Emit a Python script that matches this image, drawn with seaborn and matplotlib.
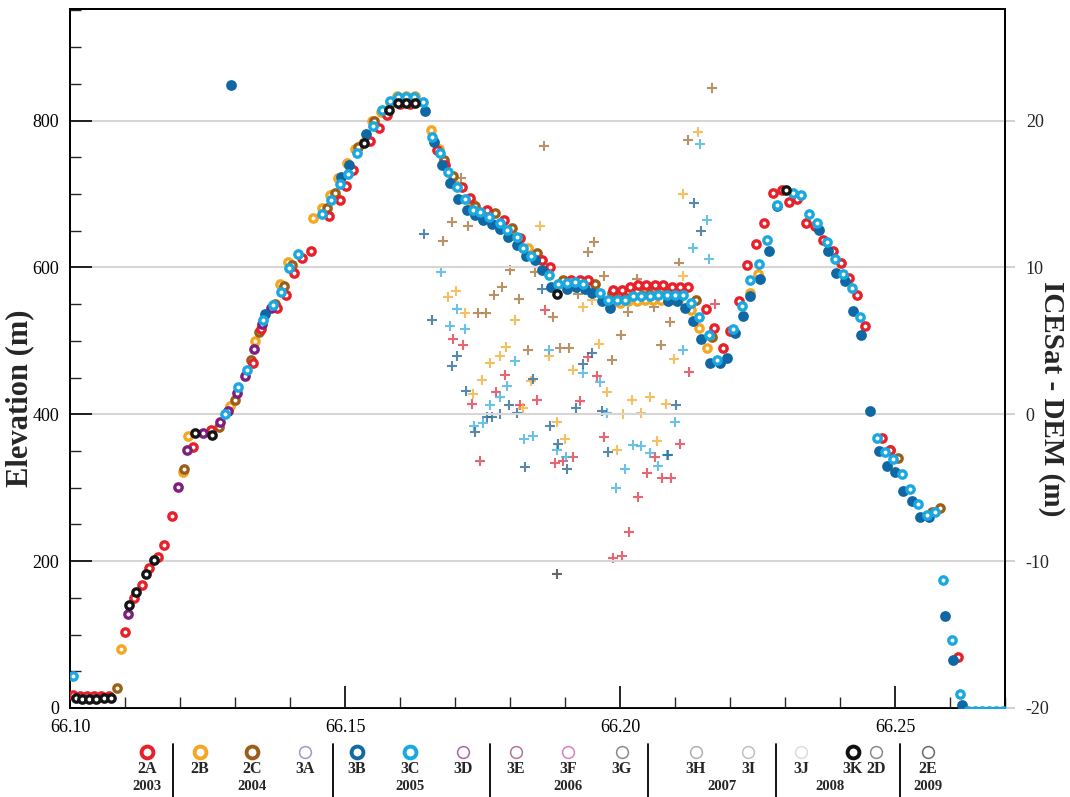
import matplotlib

matplotlib.use('Agg')
import matplotlib.pyplot as plt
from matplotlib.ticker import MultipleLocator
import seaborn as sns

# ---- elevation profiles (latitude, elevation m), left axis ----
red_pts = [(66.1005, 18), (66.1018, 17), (66.1031, 16), (66.1044, 16), (66.1057, 16), (66.1070, 17),
           (66.1100, 103), (66.1116, 150), (66.1130, 168), (66.1144, 190), (66.1160, 206), (66.1171, 222),
           (66.1185, 262), (66.1224, 356), (66.1256, 379), (66.1333, 470), (66.1347, 516), (66.1377, 545),
           (66.1393, 562), (66.1407, 593), (66.1422, 613), (66.1438, 623), (66.1470, 670), (66.1491, 692),
           (66.1501, 711), (66.1515, 733), (66.1545, 772), (66.1562, 790), (66.1577, 808), (66.1600, 822),
           (66.1618, 822), (66.1667, 760), (66.1682, 740), (66.1712, 709), (66.1727, 695), (66.1758, 678),
           (66.1789, 664), (66.1819, 640), (66.1858, 610), (66.1873, 600), (66.1910, 583), (66.1927, 583),
           (66.1942, 583), (66.1988, 569), (66.2003, 569), (66.2018, 574), (66.2033, 576), (66.2048, 576),
           (66.2064, 576), (66.2079, 576), (66.2094, 574), (66.2109, 574), (66.2124, 574), (66.2156, 543),
           (66.2170, 518), (66.2187, 490), (66.2200, 513), (66.2217, 554), (66.2231, 604), (66.2247, 632),
           (66.2262, 661), (66.2278, 701), (66.2294, 705), (66.2308, 689), (66.2322, 693), (66.2339, 661),
           (66.2355, 657), (66.2370, 637), (66.2387, 622), (66.2401, 606), (66.2417, 585), (66.2431, 563),
           (66.2445, 520), (66.2476, 368), (66.2491, 351), (66.2614, 70)]

orange_pts = [(66.1092, 80), (66.1206, 322), (66.1215, 371), (66.1291, 411), (66.1336, 500), (66.1381, 578),
              (66.1396, 607), (66.1442, 668), (66.1458, 681), (66.1473, 699), (66.1488, 722), (66.1503, 742),
              (66.1518, 762), (66.1533, 770), (66.1549, 799), (66.1566, 812), (66.1582, 826), (66.1594, 833),
              (66.1611, 834), (66.1627, 834), (66.1656, 787), (66.1670, 762), (66.1700, 712), (66.1730, 688),
              (66.1833, 626), (66.1985, 552), (66.2000, 552), (66.2015, 554), (66.2030, 554), (66.2045, 556),
              (66.2060, 556), (66.2075, 556), (66.2090, 556), (66.2105, 556), (66.2130, 542), (66.2144, 518),
              (66.2159, 490), (66.2236, 565), (66.2251, 591)]

brown_pts = [(66.1085, 27), (66.1208, 325), (66.1270, 383), (66.1300, 420), (66.1329, 474), (66.1343, 512),
             (66.1373, 550), (66.1389, 575), (66.1403, 604), (66.1467, 681), (66.1482, 701), (66.1523, 764),
             (66.1553, 800), (66.1585, 826), (66.1680, 747), (66.1696, 724), (66.1736, 684), (66.1773, 674),
             (66.1803, 654), (66.1849, 620), (66.1897, 583), (66.1955, 578), (66.1985, 565), (66.2000, 565),
             (66.2015, 568), (66.2030, 568), (66.2045, 570), (66.2061, 570), (66.2076, 570), (66.2091, 570),
             (66.2106, 570), (66.2139, 556), (66.2167, 505), (66.2491, 351), (66.2506, 340), (66.2567, 267),
             (66.2581, 272)]

dblue_pts = [(66.1293, 849), (66.1355, 536), (66.1492, 723), (66.1507, 740), (66.1538, 782), (66.1645, 813),
             (66.1662, 771), (66.1676, 740), (66.1690, 715), (66.1706, 693), (66.1721, 678), (66.1736, 672),
             (66.1751, 665), (66.1767, 659), (66.1782, 652), (66.1797, 642), (66.1812, 631), (66.1829, 615),
             (66.1845, 610), (66.1859, 596), (66.1874, 573), (66.1903, 570), (66.1920, 573), (66.1936, 570),
             (66.1950, 565), (66.1967, 554), (66.1981, 545), (66.2088, 554), (66.2103, 554), (66.2118, 545),
             (66.2132, 527), (66.2148, 502), (66.2164, 470), (66.2181, 470), (66.2194, 477), (66.2209, 511),
             (66.2224, 534), (66.2236, 561), (66.2255, 584), (66.2270, 622), (66.2285, 684), (66.2362, 651),
             (66.2379, 622), (66.2393, 593), (66.2409, 581), (66.2423, 541), (66.2439, 508), (66.2455, 405),
             (66.2470, 350), (66.2485, 330), (66.2500, 322), (66.2515, 296), (66.2530, 282), (66.2545, 260),
             (66.2561, 260), (66.2591, 125), (66.2606, 66), (66.2622, 4)]

cyan_pts = [(66.1005, 43), (66.1282, 401), (66.1306, 437), (66.1322, 460), (66.1351, 529), (66.1369, 549),
            (66.1383, 566), (66.1399, 599), (66.1415, 619), (66.1459, 673), (66.1475, 692), (66.1490, 713),
            (66.1505, 727), (66.1521, 756), (66.1551, 792), (66.1567, 815), (66.1582, 827), (66.1596, 832),
            (66.1611, 832), (66.1626, 832), (66.1642, 826), (66.1658, 778), (66.1673, 756), (66.1688, 730),
            (66.1703, 709), (66.1718, 693), (66.1733, 678), (66.1745, 675), (66.1761, 669), (66.1781, 661),
            (66.1795, 651), (66.1812, 642), (66.1824, 626), (66.1839, 615), (66.1871, 590), (66.1888, 578),
            (66.1903, 579), (66.1918, 580), (66.1933, 578), (66.1964, 565), (66.1979, 556), (66.1994, 556),
            (66.2009, 556), (66.2024, 561), (66.2039, 561), (66.2055, 561), (66.2070, 563), (66.2085, 563),
            (66.2100, 563), (66.2115, 563), (66.2130, 552), (66.2144, 533), (66.2161, 508), (66.2176, 474),
            (66.2206, 516), (66.2221, 548), (66.2236, 583), (66.2253, 605), (66.2268, 638), (66.2285, 685),
            (66.2315, 702), (66.2329, 699), (66.2344, 673), (66.2359, 661), (66.2376, 634), (66.2391, 611),
            (66.2406, 591), (66.2421, 572), (66.2436, 532), (66.2467, 368), (66.2482, 349), (66.2497, 339),
            (66.2512, 319), (66.2527, 298), (66.2542, 278), (66.2559, 263), (66.2573, 267), (66.2588, 174),
            (66.2604, 93), (66.2619, 19), (66.2633, -4), (66.2645, -4), (66.2658, -4), (66.2671, -4),
            (66.2684, -4), (66.2696, -4)]

purple_pts = [(66.1105, 128), (66.1197, 301), (66.1212, 351), (66.1242, 375), (66.1273, 390), (66.1288, 404),
              (66.1303, 429), (66.1318, 452), (66.1335, 489), (66.1349, 523), (66.1365, 545)]

black_pts = [(66.1010, 13), (66.1022, 12), (66.1035, 12), (66.1048, 12), (66.1061, 13), (66.1074, 13),
             (66.1108, 140), (66.1120, 158), (66.1138, 183), (66.1153, 202), (66.1227, 374), (66.1259, 372),
             (66.1535, 770), (66.1580, 814), (66.1596, 824), (66.1611, 824), (66.1627, 824), (66.1885, 564),
             (66.2302, 705)]

# ---- ICESat - DEM differences (latitude, m), right axis ----
red_plus = [(66.1864, 7.1), (66.2173, 7.5), (66.1697, 5.1), (66.1714, 4.7), (66.1941, 3.9), (66.2126, 2.9),
            (66.1791, 2.7), (66.1958, 2.6), (66.1775, 1.5), (66.1730, 0.7), (66.1819, 0.65), (66.1849, 1.0),
            (66.1927, 0.9), (66.1971, -1.55), (66.2109, -2.0), (66.2064, -2.9), (66.1914, -2.9), (66.1897, -3.2),
            (66.1882, -3.3), (66.1745, -3.2), (66.2049, -4.0), (66.2076, -4.35), (66.2092, -4.35),
            (66.2033, -5.65), (66.2016, -8.0), (66.1988, -9.8), (66.2003, -9.65)]

orange_plus = [(66.1855, 12.8), (66.1702, 8.4), (66.1687, 8.0), (66.1719, 6.9), (66.1932, 7.3), (66.1809, 6.4),
               (66.2115, 9.4), (66.1949, 7.8), (66.1961, 4.8), (66.1870, 4.0), (66.1793, 4.6), (66.1781, 4.0),
               (66.1764, 3.5), (66.2099, 3.8), (66.1915, 3.0), (66.1749, 2.35), (66.1838, 2.3), (66.1976, 1.5),
               (66.1732, 1.4), (66.1824, 0.4), (66.2006, 0.0), (66.2021, 1.0), (66.2038, 0.1), (66.2055, 1.2),
               (66.2084, 0.7), (66.1886, -0.5), (66.1900, -1.7), (66.1994, -2.4), (66.2067, -1.85),
               (66.2115, 15.0), (66.2142, 19.2)]

brown_plus = [(66.1862, 18.25), (66.1710, 16.1), (66.1694, 13.1), (66.1724, 12.8), (66.1678, 11.8),
              (66.1953, 11.7), (66.1941, 11.05), (66.1800, 9.85), (66.1785, 8.7), (66.1771, 8.1),
              (66.1817, 7.85), (66.1845, 9.7), (66.1970, 9.4), (66.1741, 6.9), (66.1756, 6.9), (66.1879, 6.6),
              (66.2030, 9.2), (66.2015, 7.0), (66.2108, 10.3), (66.1924, 8.2), (66.2062, 7.3), (66.2091, 6.3),
              (66.2001, 5.4), (66.2074, 4.7), (66.1833, 4.35), (66.1891, 4.5), (66.1908, 4.5), (66.1985, 3.7),
              (66.2167, 22.25), (66.2124, 18.7)]

cyan_plus = [(66.1674, 9.7), (66.1703, 7.2), (66.1690, 6.0), (66.2161, 10.6), (66.1718, 5.8), (66.1870, 4.4),
             (66.1809, 3.6), (66.1932, 2.8), (66.2115, 4.35), (66.1795, 1.9), (66.1964, 2.2), (66.1781, 1.2),
             (66.1764, 0.6), (66.1976, 0.1), (66.1751, -0.6), (66.1735, -0.8), (66.2100, -0.55), (66.1825, -1.7),
             (66.1841, -1.5), (66.1885, -2.4), (66.2024, -2.1), (66.2039, -2.15), (66.2055, -2.65),
             (66.2085, -2.75), (66.2070, -3.5), (66.1902, -2.9), (66.2009, -3.7), (66.1993, -5.0),
             (66.2145, 18.4), (66.2158, 13.2), (66.2132, 11.3)]

dblue_plus = [(66.1644, 12.3), (66.1859, 8.5), (66.1659, 6.4), (66.1704, 4.0), (66.1694, 3.3), (66.1950, 4.2),
              (66.1933, 3.4), (66.1842, 2.4), (66.1720, 1.6), (66.1758, -0.15), (66.1767, -0.15), (66.1782, 0.0),
              (66.1799, 0.65), (66.1812, 0.1), (66.1920, 0.45), (66.1967, 0.25), (66.2102, 0.65), (66.1736, -1.2),
              (66.1873, -0.8), (66.1888, -2.0), (66.1979, -2.6), (66.2088, -2.75), (66.1904, -3.7),
              (66.1827, -3.6), (66.2135, 14.4), (66.2147, 12.5)]

gray_plus = [(66.1885, -10.9)]

# ---- legend below the plot ----
leg_labels = ['2A', '2B', '2C', '3A', '3B', '3C', '3D', '3E', '3F', '3G', '3H', '3I', '3J', '3K', '2D', '2E']
leg_colors = ['#e8202a', '#f5a623', '#9c5f1a', '#a096d2', '#136aa3', '#1aa8e0', '#b060b0', '#b07898',
              '#d880c0', '#8a8a8a', '#b0b0b0', '#c0c0c0', '#dcdcdc', '#111111', '#8a8a8a', '#6a6a6a']
leg_thick = [True, True, True, False, True, True, False, False, False, False, False, False, False, True,
             False, False]
leg_x = [147, 200, 252, 305, 357, 410, 463, 516, 568, 622, 696, 748, 801, 853, 876, 928]
year_labels = ['2003', '2004', '2005', '2006', '2007', '2008', '2009']
year_x = [147, 252, 410, 568, 722, 830, 928]
sep_x = [173, 333, 490, 648, 776, 900]

sns.set_style('white')
plt.rcParams['font.family'] = ['Liberation Serif', 'DejaVu Serif']
plt.rcParams['axes.unicode_minus'] = False

fig = plt.figure(figsize=(10.7, 7.97), dpi=100)
ax = fig.add_axes([70 / 1070, 89 / 797, 935 / 1070, 699 / 797])
ax2 = ax.twinx()
ax.set_zorder(ax2.get_zorder() + 1)
ax.patch.set_visible(False)


def rings(pts, color, z, filled=False):
    lat, elev = zip(*pts)
    if filled:
        sns.scatterplot(x=list(lat), y=list(elev), ax=ax, color=color, s=60, linewidth=0, zorder=z)
    else:
        sns.scatterplot(x=list(lat), y=list(elev), ax=ax, color='white', edgecolor=color,
                        s=28, linewidth=2.4, zorder=z)


def pluses(pts, color):
    lat, diff = zip(*pts)
    sns.scatterplot(x=list(lat), y=list(diff), ax=ax2, marker='+', color=color, s=45,
                    linewidth=1.5, alpha=0.8)


pluses(red_plus, '#e2404e')
pluses(orange_plus, '#f4b03a')
pluses(brown_plus, '#a87840')
pluses(cyan_plus, '#46b2e2')
pluses(dblue_plus, '#2e6a96')
pluses(gray_plus, '#404040')

rings(orange_pts, '#f5a623', 3)
rings(brown_pts, '#9c5f1a', 4)
rings(red_pts, '#e8202a', 5)
rings(purple_pts, '#7e1e7e', 6)
rings(dblue_pts, '#0f67a3', 7, filled=True)
rings(cyan_pts, '#1aa8e0', 8)
rings(black_pts, '#151515', 9)

ax.set_xlim(66.10, 66.27)
ax.set_ylim(0, 952)
ax2.set_ylim(-20, 27.6)

ax.set_xticks([66.10, 66.15, 66.20, 66.25])
ax.set_xticklabels(['66.10', '66.15', '66.20', '66.25'])
ax.xaxis.set_minor_locator(MultipleLocator(0.01))
ax.set_yticks([0, 200, 400, 600, 800])
ax.yaxis.set_minor_locator(MultipleLocator(50))
ax2.set_yticks([-20, -10, 0, 10, 20])

ax.yaxis.grid(True, color='#d6d6d6', linewidth=1.5)
ax.tick_params(axis='both', which='major', direction='in', length=16, width=1.2, labelsize=13,
               colors='black', pad=8, left=True, bottom=True)
ax.tick_params(axis='both', which='minor', direction='in', length=8, width=1.0, left=True, bottom=True)
ax2.tick_params(axis='y', direction='out', length=7, width=1.2, color='#c8c8c8', labelsize=13, pad=8)
ax.set_xlabel('')
ax.set_ylabel('')
ax2.set_ylabel('')

for a in (ax, ax2):
    for sp in a.spines.values():
        sp.set_visible(True)
        sp.set_color('black')
        sp.set_linewidth(1.3)

fig.text(20 / 1070, 0.5, 'Elevation (m)', rotation=90, ha='center', va='center', fontsize=22,
         fontweight='bold')
fig.text(1052 / 1070, 0.5, 'ICESat - DEM (m)', rotation=270, ha='center', va='center', fontsize=21,
         fontweight='bold')

# legend strip
lax = fig.add_axes([0, 0, 1, 80 / 797])
lax.set_xlim(0, 1070)
lax.set_ylim(797, 717)
lax.axis('off')
for lab, col, thick, x in zip(leg_labels, leg_colors, leg_thick, leg_x):
    lax.plot([x], [752], marker='o', markersize=8.5, markerfacecolor='white',
             markeredgecolor=col, markeredgewidth=2.8 if thick else 1.1, linestyle='none', clip_on=False)
    lax.text(x, 769, lab, ha='center', va='center', fontsize=11.5, fontweight='bold')
for yr, x in zip(year_labels, year_x):
    lax.text(x, 787, yr, ha='center', va='center', fontsize=10.5, fontweight='bold')
for x in sep_x:
    lax.plot([x, x], [744, 797], color='black', linewidth=1.3, clip_on=False)

fig.savefig('out.png', dpi=100)
plt.close(fig)
